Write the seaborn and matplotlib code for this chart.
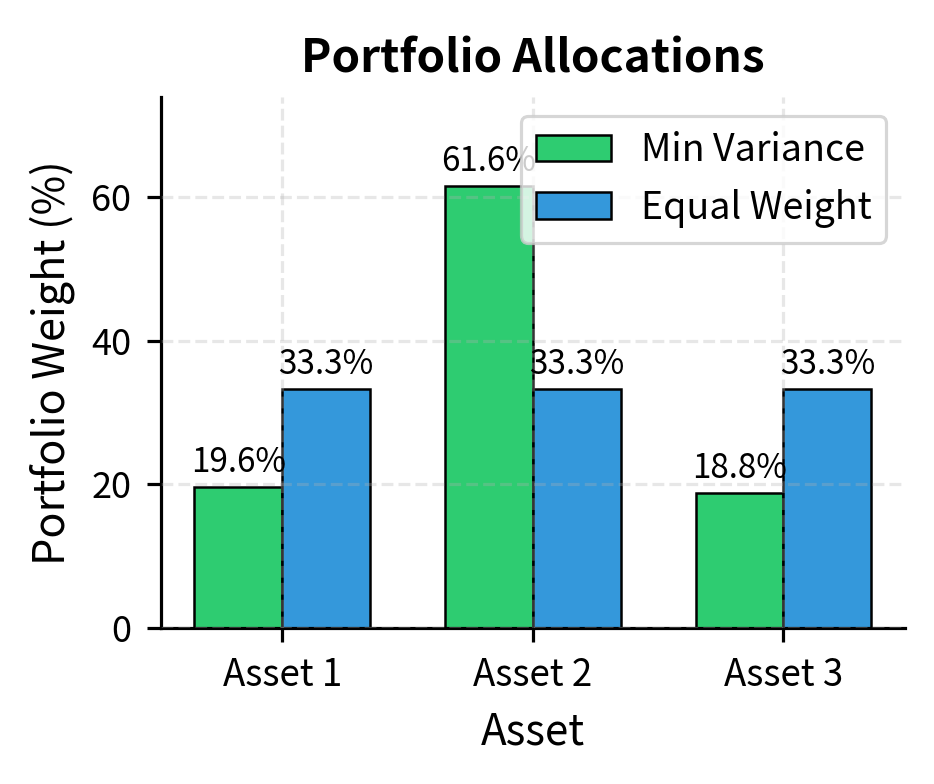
import matplotlib
matplotlib.use("Agg")
import matplotlib.pyplot as plt
import seaborn as sns
import pandas as pd

assets = ["Asset 1", "Asset 2", "Asset 3"]
min_variance = [19.6, 61.6, 18.8]
equal_weight = [33.3, 33.3, 33.3]
strategies = ["Min Variance", "Equal Weight"]
colors = ["#2ecc71", "#3498db"]

df = pd.DataFrame({
    "Asset": assets * 2,
    "Weight": min_variance + equal_weight,
    "Strategy": [strategies[0]] * 3 + [strategies[1]] * 3,
})

sns.set_theme(style="ticks")
plt.rcParams["font.family"] = ["Noto Sans CJK JP", "DejaVu Sans"]
plt.rcParams["text.color"] = "black"
plt.rcParams["axes.labelcolor"] = "black"

fig, ax = plt.subplots(figsize=(4.67, 3.92), dpi=200)
sns.barplot(data=df, x="Asset", y="Weight", hue="Strategy", palette=colors,
            width=0.7, edgecolor="black", linewidth=0.9, saturation=1,
            ax=ax, errorbar=None)

for cont in ax.containers:
    ax.bar_label(cont, fmt="%.1f%%", padding=2.5, fontsize=12, color="black")

ax.set_xlim(-0.485, 2.485)
ax.set_ylim(0, max(min_variance) * 1.2)
ax.set_title("Portfolio Allocations", fontsize=16.5, fontweight="bold", pad=9,
             color="black")
ax.set_xlabel("Asset", fontsize=15.2, labelpad=5.5)
ax.set_ylabel("Portfolio Weight (%)", fontsize=15.5, labelpad=6)
ax.tick_params(axis="x", labelsize=13.2, colors="black", length=5, width=1.15, pad=5)
ax.tick_params(axis="y", labelsize=13.0, colors="black", length=5, width=1.15, pad=5.5)
ax.set_yticks([0, 20, 40, 60])
ax.grid(True, linestyle="--", alpha=0.3, color="#b0b0b0", linewidth=1.15)
ax.set_axisbelow(False)
for s in ["left", "bottom"]:
    ax.spines[s].set_color("black")
    ax.spines[s].set_linewidth(1.15)
sns.despine(ax=ax)
leg = ax.legend(loc="upper right", fontsize=13.5, title=None, frameon=True)
leg.get_frame().set_linewidth(1.15)
fig.subplots_adjust(left=0.172, right=0.969, top=0.876, bottom=0.199)
fig.savefig("out.png", dpi=200)
